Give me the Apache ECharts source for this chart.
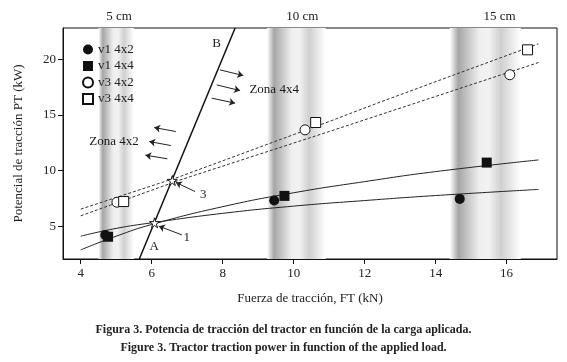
<!DOCTYPE html>
<html>
<head>
<meta charset="utf-8">
<script src="https://cdn.jsdelivr.net/npm/echarts@6/dist/echarts.min.js"></script>
<style>
  html, body { margin: 0; padding: 0; background: #fff; }
  #chart { width: 567px; height: 362px; }
</style>
</head>
<body>
<div id="chart"></div>
<script>
var dom = document.getElementById("chart");
var chart = echarts.init(dom);

var serif = "Liberation Serif";

// tick labels
var xTicks = [4, 6, 8, 10, 12, 14, 16];
var yTicks = [5, 10, 15, 20];

// measured points [FT kN, PT kW]
var v1_4x2 = [[4.69, 4.2], [9.45, 7.3], [14.68, 7.45]];
var v1_4x4 = [[4.77, 4.05], [9.74, 7.72], [15.44, 10.71]];
var v3_4x2 = [[5.02, 7.15], [10.32, 13.65], [16.09, 18.6]];
var v3_4x4 = [[5.21, 7.21], [10.62, 14.31], [16.59, 20.84]];

// fitted curves
var fit_v1_4x2 = [[4, 4.1], [5, 4.8], [6, 5.3], [8, 6.15], [10, 6.8], [12, 7.3], [14, 7.75], [16.9, 8.3]];
var fit_v1_4x4 = [[4, 2.87], [5, 4.1], [6, 5.15], [8, 6.75], [10, 8.0], [12, 9.0], [14, 9.9], [16.9, 10.95]];
var fit_v3_4x2 = [[4, 5.93], [6.8, 9.15], [11, 13.5], [16.9, 19.7]];
var fit_v3_4x4 = [[4, 6.53], [6.8, 9.46], [11, 14.4], [12.4, 16.1], [16.9, 21.38]];

// line A-B and its crossing points
var lineAB = [[5.65, 2.05], [8.35, 22.8]];
var crossPts = [[6.08, 5.3], [6.58, 9.1]];

// depth bands (5, 10, 15 cm)
var bands = [[4.5, 5.5], [9.25, 10.9], [14.4, 16.4]];
var bandLabels = [["5 cm", 5.08, 23.8], ["10 cm", 10.24, 23.8], ["15 cm", 15.8, 23.8]];

// text annotations [text, x, y]
var notes = [
  ["A", 6.07, 3.2], ["B", 7.83, 21.4], ["1", 6.99, 4.0], ["3", 7.45, 7.87],
  ["Zona 4x4", 9.45, 17.24], ["Zona 4x2", 4.94, 12.6]
];
// arrows [from, to]
var arrows = [
  [[7.92, 19.04], [8.58, 18.53]],
  [[7.83, 17.69], [8.49, 17.18]],
  [[7.69, 16.50], [8.35, 16.05]],
  [[6.68, 13.50], [6.07, 13.86]],
  [[6.54, 12.24], [5.93, 12.60]],
  [[6.44, 11.05], [5.82, 11.38]],
  [[6.85, 4.22], [6.2, 5.0]],
  [[7.22, 8.11], [6.68, 8.93]]
];

var bandGrad = {
  type: 'linear', x: 0, y: 0, x2: 1, y2: 0,
  colorStops: [
    { offset: 0, color: '#ffffff' },
    { offset: 0.12, color: '#a6a6a6' },
    { offset: 0.25, color: '#c6c6c6' },
    { offset: 0.42, color: '#efefef' },
    { offset: 0.55, color: '#f2f2f2' },
    { offset: 0.72, color: '#d0d0d0' },
    { offset: 1, color: '#ffffff' }
  ]
};

var star = 'path://M50,0 L61,35 L98,35 L68,57 L79,91 L50,70 L21,91 L32,57 L2,35 L39,35 Z';

function curve(data, dashed) {
  return {
    type: 'line',
    data: data,
    smooth: dashed ? false : true,
    symbol: 'none',
    silent: true,
    z: 2,
    lineStyle: { color: dashed ? '#333' : '#222', width: 1, type: dashed ? [3, 2] : 'solid' }
  };
}

var option = {
  animation: false,
  backgroundColor: '#fff',
  textStyle: { fontFamily: serif },
  title: [
    {
      text: 'Figura 3. Potencia de tracción del tractor en función de la carga aplicada.',
      left: 'center', top: 319,
      textStyle: { fontFamily: serif, fontSize: 12, fontWeight: 'bold', color: '#222' }
    },
    {
      text: 'Figure 3. Tractor traction power in function of the applied load.',
      left: 'center', top: 337,
      textStyle: { fontFamily: serif, fontSize: 12, fontWeight: 'bold', color: '#222' }
    }
  ],
  grid: {
    left: 63, right: 10, top: 28, bottom: 103,
    show: true, borderColor: '#111', borderWidth: 1, backgroundColor: 'transparent'
  },
  legend: {
    data: ['v1 4x2', 'v1 4x4', 'v3 4x2', 'v3 4x4'],
    orient: 'vertical',
    left: 77, top: 38,
    itemWidth: 10, itemHeight: 10, itemGap: 3.5,
    textStyle: { fontFamily: serif, fontSize: 13, color: '#222', lineHeight: 13 }
  },
  xAxis: {
    type: 'value',
    min: 3.5, max: 17.42,
    name: 'Fuerza de tracción, FT (kN)',
    nameLocation: 'middle', nameGap: 33,
    nameTextStyle: { fontFamily: serif, fontSize: 13, color: '#222' },
    splitLine: { show: false },
    axisLine: { show: true, lineStyle: { color: '#111' } },
    axisTick: { show: true, length: 5, customValues: xTicks, lineStyle: { color: '#111' } },
    axisLabel: { customValues: xTicks, fontFamily: serif, fontSize: 13, color: '#222', margin: 8 }
  },
  yAxis: {
    type: 'value',
    min: 2.05, max: 22.8,
    name: 'Potencial de tracción PT (kW)',
    nameLocation: 'middle', nameGap: 38, nameRotate: 90,
    nameTextStyle: { fontFamily: serif, fontSize: 13, color: '#222' },
    splitLine: { show: false },
    axisLine: { show: true, lineStyle: { color: '#111' } },
    axisTick: { show: true, length: 5, customValues: yTicks, lineStyle: { color: '#111' } },
    axisLabel: { customValues: yTicks, fontFamily: serif, fontSize: 13, color: '#222', margin: 7 }
  },
  series: [
    {
      type: 'line', data: lineAB, symbol: 'none', silent: true, z: 3,
      lineStyle: { color: '#111', width: 1.5 },
      markArea: {
        silent: true,
        data: bands.map(function (b) {
          return [{ xAxis: b[0], itemStyle: { color: bandGrad } }, { xAxis: b[1] }];
        })
      }
    },
    curve(fit_v1_4x2, false),
    curve(fit_v1_4x4, false),
    curve(fit_v3_4x2, true),
    curve(fit_v3_4x4, true),
    {
      type: 'lines', coordinateSystem: 'cartesian2d', silent: true, z: 3,
      symbol: ['none', 'arrow'], symbolSize: 6,
      lineStyle: { color: '#222', width: 1, opacity: 1 },
      data: arrows.map(function (a) { return { coords: a }; })
    },
    {
      type: 'scatter', data: crossPts, symbol: star, symbolSize: 10, z: 4, silent: true,
      itemStyle: { color: '#fff', borderColor: '#111', borderWidth: 1, opacity: 1 }
    },
    {
      name: 'v1 4x2', type: 'scatter', data: v1_4x2, symbol: 'circle', symbolSize: 10, z: 5,
      itemStyle: { color: '#111', opacity: 1 }
    },
    {
      name: 'v1 4x4', type: 'scatter', data: v1_4x4, symbol: 'rect', symbolSize: 10, z: 5,
      itemStyle: { color: '#111', opacity: 1 }
    },
    {
      name: 'v3 4x2', type: 'scatter', data: v3_4x2, symbol: 'circle', symbolSize: 10, z: 5,
      itemStyle: { color: '#fff', borderColor: '#111', borderWidth: 1, opacity: 1 }
    },
    {
      name: 'v3 4x4', type: 'scatter', data: v3_4x4, symbol: 'rect', symbolSize: 10, z: 5,
      itemStyle: { color: '#fff', borderColor: '#111', borderWidth: 1, opacity: 1 }
    },
    {
      type: 'scatter', silent: true, z: 6, clip: false, symbolSize: 1,
      itemStyle: { color: 'rgba(0,0,0,0)', opacity: 1 },
      label: { show: true, position: 'inside', formatter: '{b}', fontFamily: serif, fontSize: 13, color: '#1a1a1a', opacity: 1 },
      data: notes.concat(bandLabels).map(function (n) { return { name: n[0], value: [n[1], n[2]] }; })
    }
  ]
};

if (option && typeof option === 'object') {
  chart.setOption(option);
}
</script>
</body>
</html>
